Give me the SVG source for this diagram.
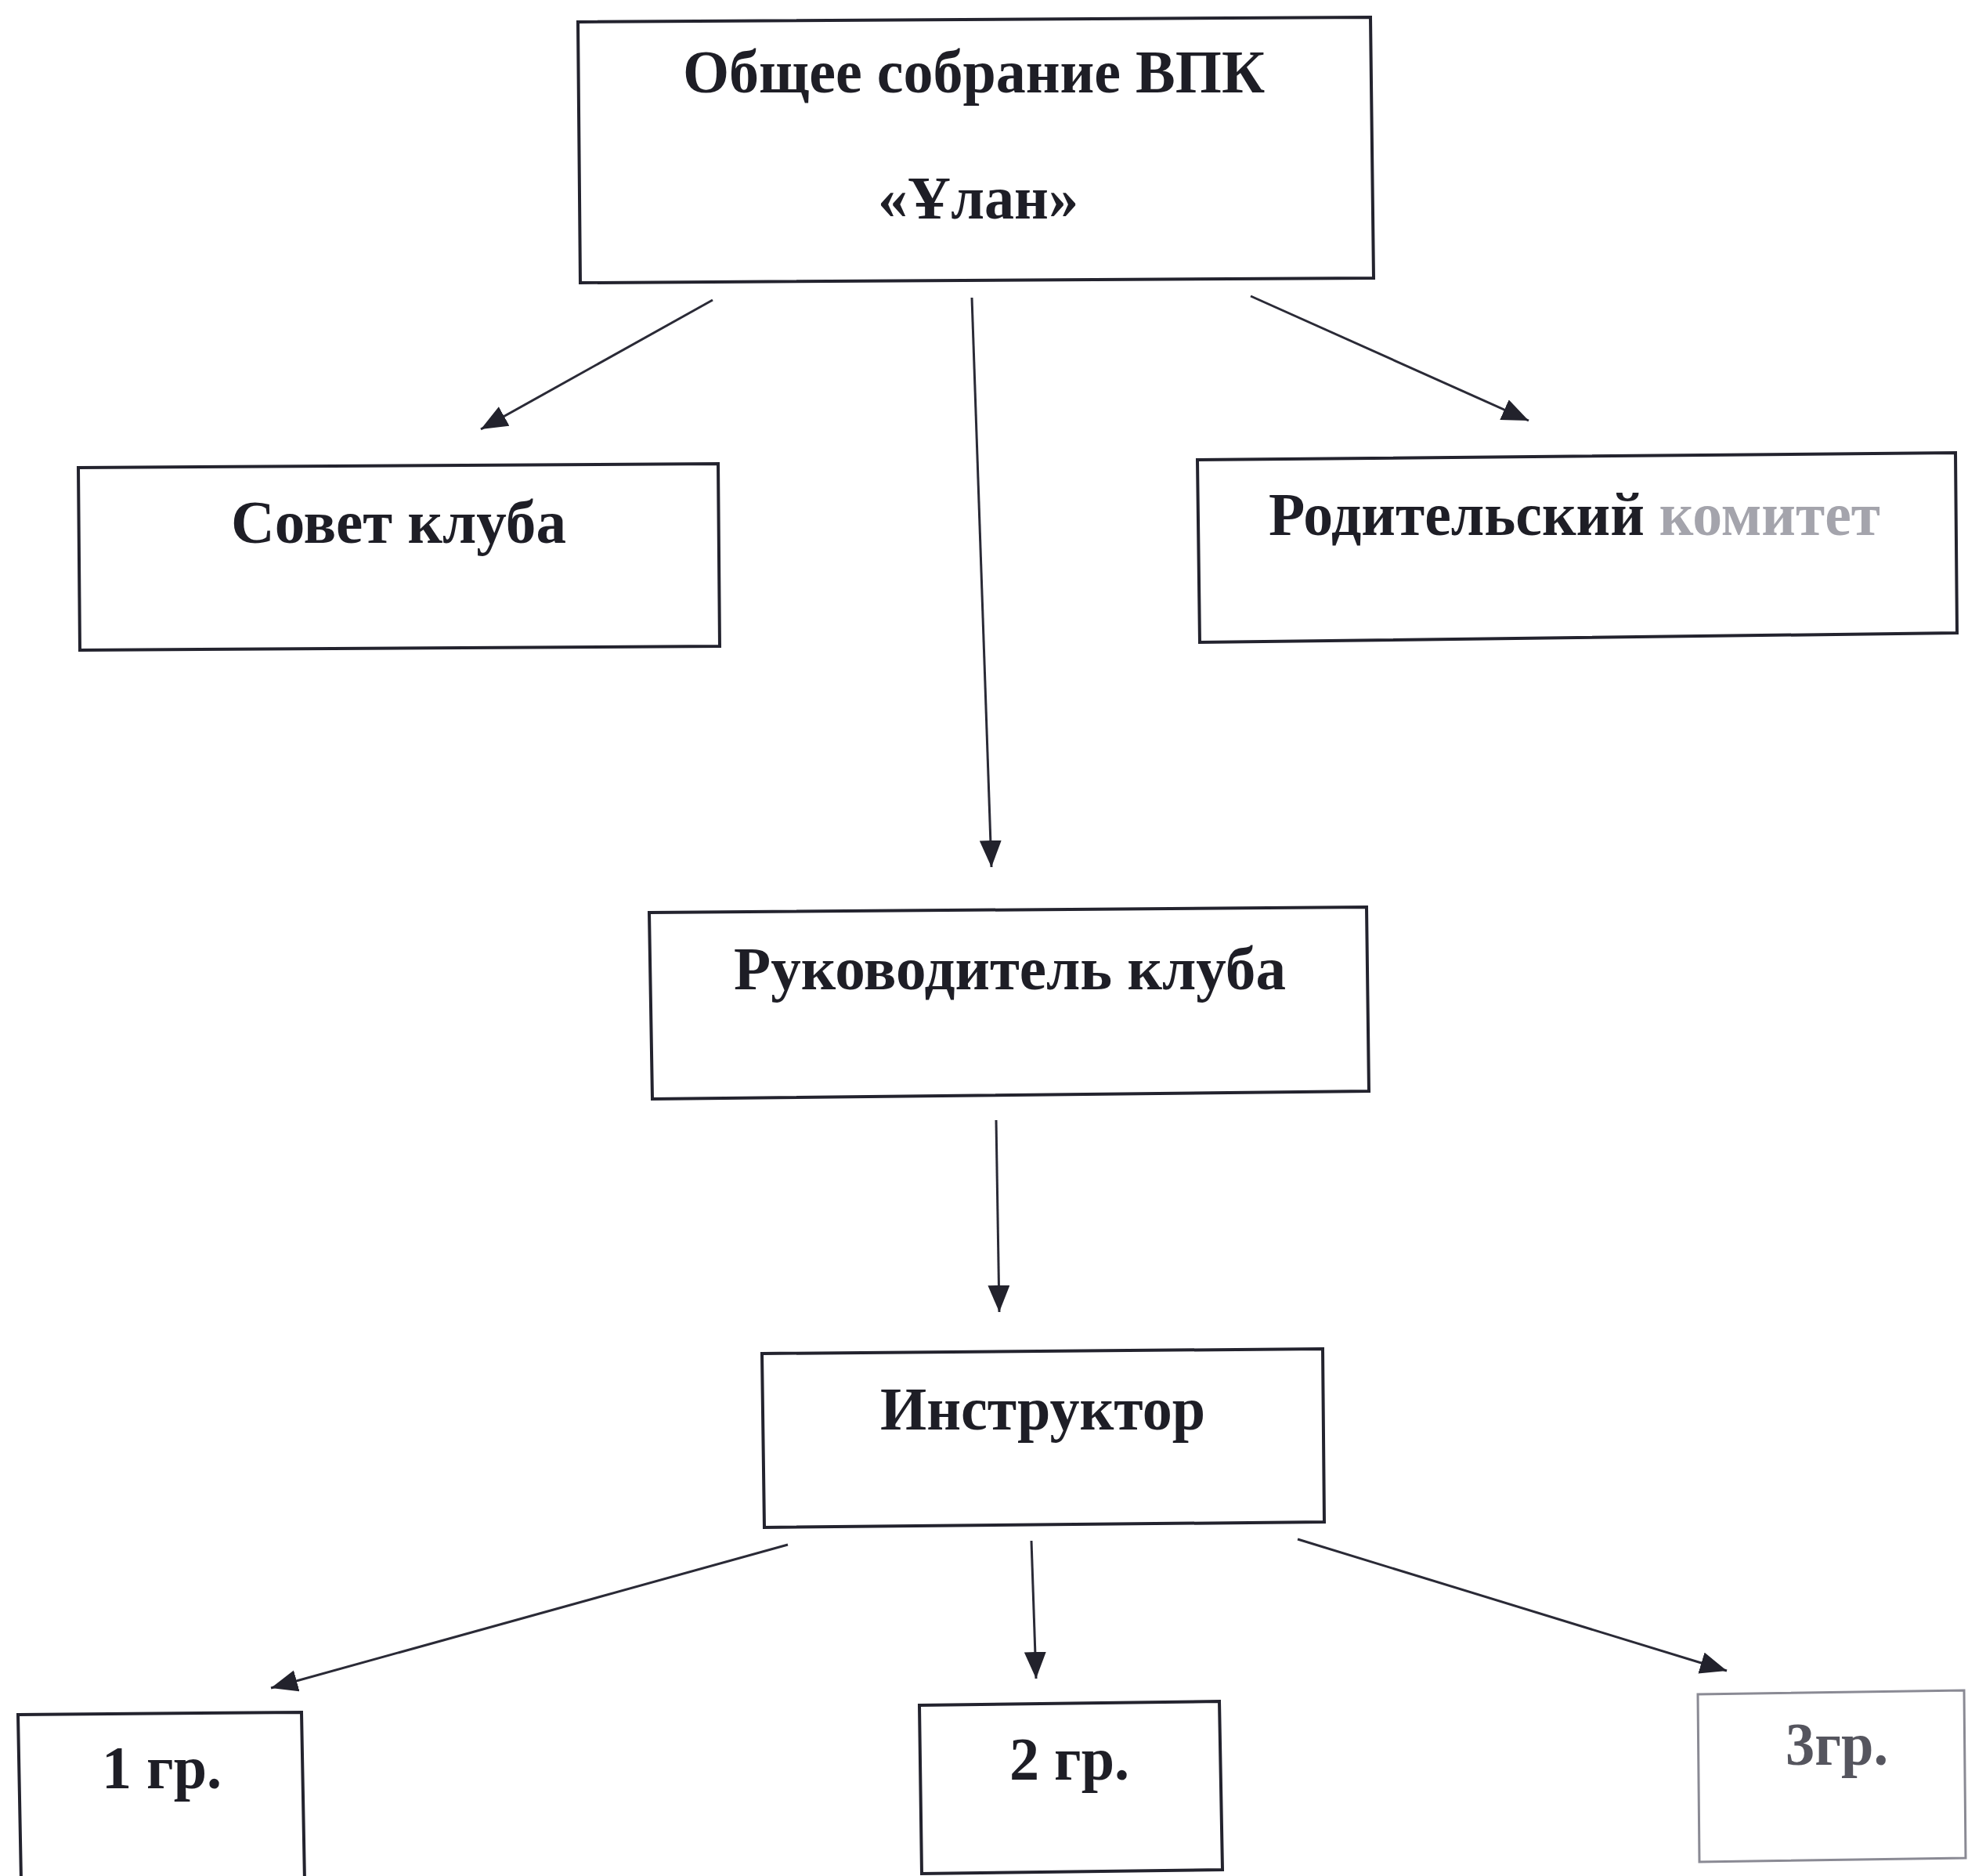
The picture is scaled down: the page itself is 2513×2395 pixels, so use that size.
<svg xmlns="http://www.w3.org/2000/svg" width="2513" height="2395" viewBox="0 0 2513 2395">
  <style>
    .box { fill: none; stroke: #23232e; stroke-width: 4; stroke-linejoin: miter; }
    .faint { stroke: #8a8a94; stroke-width: 3; }
    .lbl { font-family: "Liberation Serif", "DejaVu Serif", serif; font-weight: bold; font-size: 78px; fill: #1e1e26; }
    .pale { fill: #a4a4ac; }
    .conn { fill: none; stroke: #2a2a36; stroke-width: 3; marker-end: url(#arr); }
  </style>
  <defs>
    <marker id="arr" markerUnits="userSpaceOnUse" markerWidth="36" markerHeight="30" refX="34" refY="14" orient="auto">
      <path d="M0,0 L34,14 L0,28 Z" fill="#22222c"/>
    </marker>
  </defs>
  <rect width="2513" height="2395" fill="#ffffff"/>

  <g id="connectors">
    <line class="conn" x1="910" y1="383" x2="614" y2="548"/>
    <line class="conn" x1="1241" y1="380" x2="1266" y2="1107"/>
    <line class="conn" x1="1597" y1="378" x2="1952" y2="537"/>
    <line class="conn" x1="1272" y1="1430" x2="1276" y2="1675"/>
    <line class="conn" x1="1006" y1="1972" x2="346" y2="2155"/>
    <line class="conn" x1="1317" y1="1967" x2="1323" y2="2143"/>
    <line class="conn" x1="1657" y1="1965" x2="2205" y2="2133"/>
  </g>

  <g id="node-general">
    <polygon class="box" points="738,28 1750,22 1754,355 741,361"/>
    <text class="lbl" x="872" y="118" textLength="743" lengthAdjust="spacingAndGlyphs">Общее собрание ВПК</text>
    <text class="lbl" x="1121" y="279" textLength="256" lengthAdjust="spacingAndGlyphs">«Ұлан»</text>
  </g>

  <g id="node-council">
    <polygon class="box" points="100,597 917,592 919,825 102,830"/>
    <text class="lbl" x="295" y="693" textLength="428" lengthAdjust="spacingAndGlyphs">Совет клуба</text>
  </g>

  <g id="node-parents">
    <polygon class="box" points="1529,587 2497,578 2499,808 1532,820"/>
    <text class="lbl" x="1620" y="683" textLength="781" lengthAdjust="spacingAndGlyphs">Родительский <tspan class="pale">комитет</tspan></text>
  </g>

  <g id="node-head">
    <polygon class="box" points="829,1165 1745,1158 1748,1393 833,1403"/>
    <text class="lbl" x="937" y="1263" textLength="705" lengthAdjust="spacingAndGlyphs">Руководитель клуба</text>
  </g>

  <g id="node-instructor">
    <polygon class="box" points="973,1728 1689,1722 1691,1943 976,1950"/>
    <text class="lbl" x="1124" y="1825" textLength="415" lengthAdjust="spacingAndGlyphs">Инструктор</text>
  </g>

  <g id="node-group1">
    <polygon class="box" points="23,2189 385,2186 389,2402 27,2402"/>
    <text class="lbl" x="130" y="2283" textLength="153" lengthAdjust="spacingAndGlyphs">1 гр.</text>
  </g>

  <g id="node-group2">
    <polygon class="box" points="1174,2177 1557,2172 1561,2387 1177,2392"/>
    <text class="lbl" x="1289" y="2272" textLength="153" lengthAdjust="spacingAndGlyphs">2 гр.</text>
  </g>

  <g id="node-group3">
    <polygon class="box faint" points="2168,2163 2508,2158 2510,2372 2170,2377"/>
    <text class="lbl" x="2280" y="2253" textLength="131" lengthAdjust="spacingAndGlyphs" style="fill:#55555e">3гр.</text>
  </g>
</svg>
